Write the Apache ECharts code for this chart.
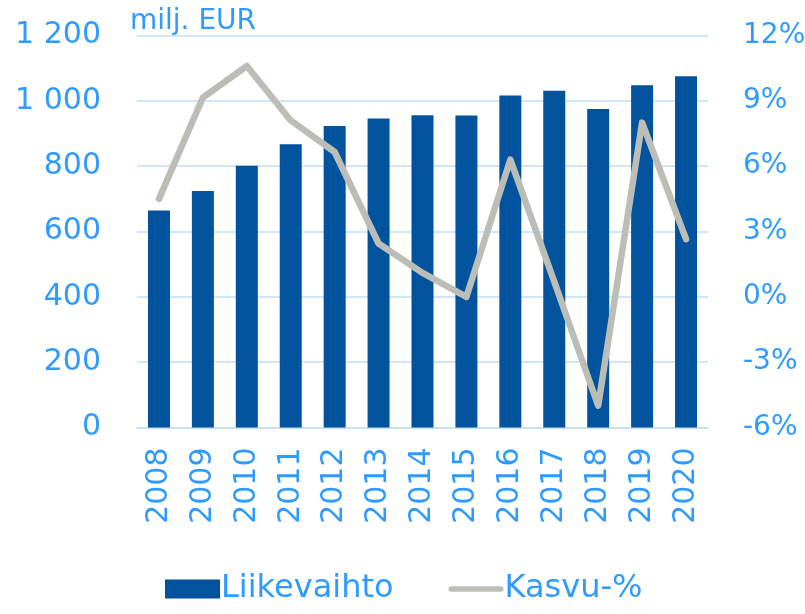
<!DOCTYPE html>
<html>
<head>
<meta charset="utf-8">
<script src="https://cdn.jsdelivr.net/npm/echarts@6/dist/echarts.min.js"></script>
<style>
  html, body { margin: 0; padding: 0; background: #fff; }
  #chart { width: 805px; height: 614px; }
</style>
</head>
<body>
<div id="chart"></div>
<script>
// data
const years = ["2008", "2009", "2010", "2011", "2012", "2013", "2014",
  "2015", "2016", "2017", "2018", "2019", "2020"];
const liikevaihto = [664, 724, 801, 867, 923, 946, 956, 955, 1016, 1031, 975, 1048, 1075];
const kasvu = [4.5, 9.15, 10.6, 8.1, 6.65, 2.45, 1.1, 0.0, 6.3, 0.7, -5.0, 8.0, 2.65];

const blue = "#2f9bff";
const gridColor = "#c2def8";
const lineColor = "#bdbdb7";
const font = "DejaVu Sans";

const chart = echarts.init(document.getElementById("chart"));
chart.setOption({
  animation: false,
  textStyle: { fontFamily: font },
  grid: {
    left: 137, right: 97, top: 35.5, bottom: 186.5,
    containLabel: false,
    outerBoundsMode: "none"
  },
  graphic: [
    {
      type: "text",
      left: 130,
      top: 8,
      style: { text: "milj. EUR", fill: blue, font: "28px " + font }
    }
  ],
  legend: {
    bottom: 4,
    left: 160,
    itemWidth: 55,
    itemHeight: 19,
    itemGap: 55,
    textStyle: { color: blue, fontSize: 32, fontFamily: font, padding: [0, 0, 0, -4] },
    data: [
      { name: "Liikevaihto", icon: "rect" },
      {
        name: "Kasvu-%",
        icon: "path://M3,0 L57,0 A3,3 0 0 1 57,6 L3,6 A3,3 0 0 1 3,0 Z",
        itemStyle: { color: lineColor }
      }
    ]
  },
  xAxis: {
    type: "category",
    data: years,
    axisLine: { lineStyle: { color: gridColor, width: 1.5 } },
    axisTick: { show: false },
    axisLabel: { rotate: 90, color: blue, fontSize: 30, margin: 20 }
  },
  yAxis: [
    {
      type: "value",
      min: 0,
      max: 1200,
      interval: 200,
      axisLabel: {
        color: blue,
        fontSize: 30,
        margin: 36,
        formatter: v => String(v).replace(/\B(?=(\d{3})+(?!\d))/g, " ")
      },
      splitLine: { lineStyle: { color: gridColor, width: 1.5 } }
    },
    {
      type: "value",
      min: -6,
      max: 12,
      interval: 3,
      position: "right",
      axisLabel: { color: blue, fontSize: 28, margin: 35, formatter: "{value}%" },
      splitLine: { show: false }
    }
  ],
  series: [
    {
      name: "Liikevaihto",
      type: "bar",
      data: liikevaihto,
      barWidth: 22,
      itemStyle: { color: "#01539e" }
    },
    {
      name: "Kasvu-%",
      type: "line",
      yAxisIndex: 1,
      data: kasvu,
      symbol: "none",
      lineStyle: { color: lineColor, width: 6.5, cap: "round", join: "round" },
      itemStyle: { color: lineColor }
    }
  ]
});
</script>
</body>
</html>
